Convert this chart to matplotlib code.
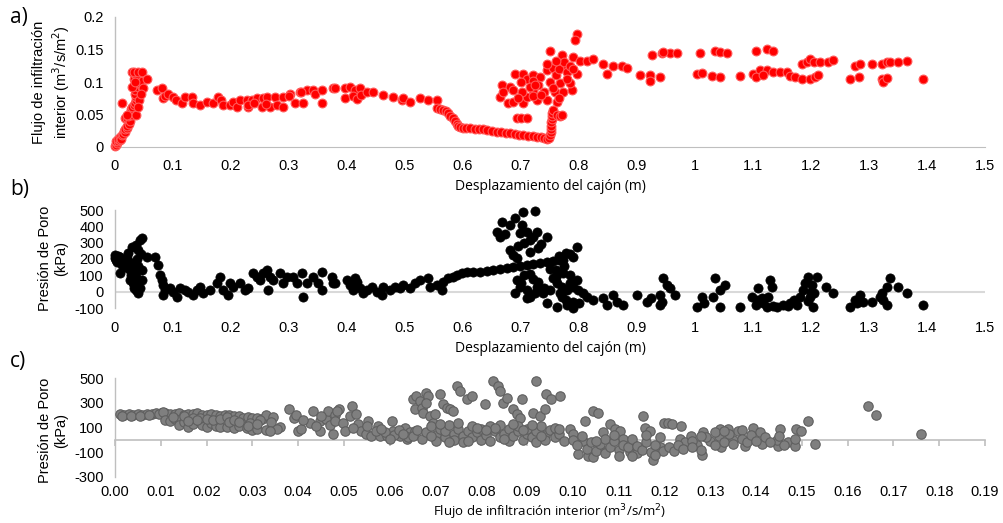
import matplotlib
matplotlib.use("Agg")
import matplotlib.pyplot as plt

# ---------------- Panel a: displacement vs infiltration flux ----------------
a_x = [0.000,0.001,0.002,0.003,0.004,0.002,0.005,0.006,0.008,0.009,0.010,0.012,0.014,0.015,0.017,0.018,0.020,0.021,
       0.017,0.020,0.024,0.026,0.022,0.026,0.029,0.031,0.028,0.029,0.033,0.034,0.012,0.037,0.037,0.034,0.034,0.040,
       0.046,0.037,0.043,0.032,0.037,0.029,0.033,0.040,0.046,0.049,0.055,0.041,0.030,0.035,0.044,0.021,0.037,0.040,
       0.072,0.081,0.083,0.087,0.092,0.100,0.106,0.115,0.121,0.132,0.135,0.147,0.158,0.169,0.178,0.183,0.187,0.198,
       0.204,0.210,0.216,0.227,0.229,0.236,0.245,0.255,0.253,0.262,0.267,0.276,0.279,0.290,0.290,0.302,0.310,0.319,
       0.324,0.331,0.341,0.345,0.357,0.357,0.376,0.379,0.397,0.405,0.413,0.422,0.397,0.410,0.418,0.425,0.434,0.445,
       0.462,0.479,0.495,0.497,0.509,0.526,0.540,0.555,0.230,0.240,0.260,0.300,0.320,
       0.555,0.560,0.566,0.570,0.574,0.578,0.583,0.586,0.589,0.592,0.595,0.600,0.606,0.612,0.620,0.628,0.635,0.642,
       0.650,0.658,0.666,0.674,0.681,0.690,0.697,0.703,0.712,0.720,0.727,0.735,0.740,0.745,0.749,
       0.750,0.751,0.751,0.752,0.752,0.753,0.753,0.754,0.755,0.762,0.768,0.771,
       0.693,0.700,0.710,
       0.664,0.667,0.681,0.690,0.703,0.710,0.721,0.733,0.745,0.750,0.755,0.771,0.772,0.790,0.797,0.793,0.802,0.814,
       0.824,0.678,0.686,0.703,0.710,0.721,0.728,0.745,0.762,0.759,0.772,0.788,0.767,0.784,0.797,0.721,0.702,0.686,
       0.669,0.715,0.730,0.740,0.750,0.760,0.765,0.775,0.780,0.785,0.700,0.695,0.720,0.735,0.755,0.765,0.780,0.790,
       0.760,0.745,0.725,
       0.841,0.848,0.859,0.874,0.883,0.905,0.922,0.922,0.940,0.926,0.943,0.957,0.969,0.945,1.009,1.034,1.043,1.055,
       1.106,1.125,1.135,1.003,1.012,1.029,1.043,1.078,1.100,1.112,1.105,1.124,1.118,1.135,1.147,1.159,1.164,1.172,
       1.184,1.198,1.207,1.212,1.184,1.193,1.198,1.205,1.216,1.229,1.238,1.276,1.284,1.305,1.322,1.331,1.336,1.350,
       1.366,1.267,1.283,1.322,1.324,1.331,1.393]
a_y = [0.002,0.005,0.003,0.008,0.006,0.010,0.009,0.012,0.011,0.015,0.013,0.018,0.020,0.024,0.023,0.027,0.029,0.032,
       0.044,0.045,0.036,0.040,0.048,0.052,0.049,0.054,0.058,0.061,0.064,0.067,0.067,0.072,0.077,0.082,0.087,0.092,
       0.092,0.098,0.102,0.104,0.110,0.115,0.115,0.115,0.115,0.090,0.105,0.072,0.093,0.100,0.082,0.049,0.049,0.062,
       0.087,0.090,0.075,0.079,0.081,0.077,0.072,0.067,0.077,0.077,0.067,0.064,0.069,0.067,0.077,0.072,0.064,0.064,
       0.069,0.061,0.072,0.072,0.061,0.072,0.075,0.075,0.061,0.077,0.061,0.077,0.064,0.077,0.061,0.082,0.067,0.085,
       0.067,0.087,0.087,0.082,0.067,0.088,0.090,0.090,0.090,0.092,0.088,0.090,0.075,0.078,0.074,0.080,0.084,0.084,
       0.080,0.077,0.072,0.075,0.069,0.075,0.073,0.072,0.065,0.068,0.066,0.079,0.084,
       0.060,0.058,0.057,0.055,0.052,0.048,0.044,0.040,0.036,0.033,0.031,0.030,0.030,0.029,0.028,0.028,0.027,0.026,
       0.025,0.023,0.023,0.022,0.021,0.020,0.019,0.018,0.017,0.017,0.016,0.015,0.014,0.013,0.014,
       0.018,0.023,0.028,0.033,0.038,0.043,0.048,0.052,0.057,0.049,0.047,0.049,
       0.044,0.045,0.044,
       0.077,0.095,0.092,0.113,0.113,0.105,0.110,0.107,0.118,0.148,0.122,0.141,0.125,0.138,0.174,0.164,0.133,0.133,
       0.136,0.067,0.069,0.067,0.077,0.087,0.072,0.072,0.069,0.084,0.084,0.087,0.098,0.098,0.113,0.102,0.084,0.087,
       0.084,0.092,0.095,0.085,0.100,0.110,0.120,0.130,0.115,0.125,0.100,0.075,0.078,0.080,0.090,0.075,0.105,0.120,
       0.133,0.128,0.095,
       0.128,0.113,0.125,0.125,0.121,0.110,0.110,0.102,0.107,0.141,0.144,0.144,0.145,0.146,0.144,0.147,0.146,0.144,
       0.147,0.151,0.147,0.113,0.114,0.109,0.107,0.109,0.113,0.118,0.108,0.118,0.110,0.116,0.116,0.116,0.109,0.107,
       0.104,0.105,0.107,0.110,0.128,0.130,0.136,0.131,0.131,0.130,0.134,0.125,0.127,0.127,0.127,0.130,0.131,0.130,
       0.133,0.105,0.107,0.105,0.100,0.106,0.104]

# ---------------- Panel b: displacement vs pore pressure ----------------
b_x = [0.000,0.000,0.002,0.003,0.005,0.006,0.009,0.011,0.014,0.012,0.009,0.016,0.020,0.022,0.029,0.037,0.043,0.046,
       0.040,0.018,0.024,0.029,0.031,0.037,0.031,0.037,0.040,0.043,0.046,0.046,0.026,0.034,0.034,0.040,0.028,0.038,
       0.044,0.033,
       0.055,0.069,0.074,0.078,0.081,0.083,0.086,0.083,0.095,0.100,0.107,0.112,0.121,0.126,0.134,0.141,0.147,0.152,
       0.164,0.176,0.181,0.187,0.195,0.198,0.204,0.216,0.224,0.230,0.238,0.245,0.250,0.255,0.262,0.267,0.264,0.272,
       0.284,0.290,0.297,0.307,0.314,0.322,0.324,0.331,0.341,0.350,0.357,0.357,0.374,0.376,0.379,
       0.400,0.405,0.410,0.414,0.418,0.422,0.428,0.434,0.443,0.452,0.460,0.462,0.474,0.483,0.491,0.497,0.509,0.517,
       0.526,0.540,0.543,0.555,0.564,0.566,0.574,0.583,0.590,0.598,0.607,0.617,0.629,0.641,0.652,0.664,0.676,0.686,
       0.698,0.710,0.721,0.733,0.745,0.755,0.765,
       0.667,0.659,0.664,0.672,0.681,0.690,0.703,0.724,0.710,0.716,0.721,0.728,0.745,0.729,0.716,0.681,0.686,0.693,
       0.698,0.702,0.772,0.778,0.790,0.797,0.785,0.765,0.705,0.695,0.735,
       0.693,0.690,0.698,0.710,0.716,0.728,0.738,0.745,0.750,0.755,0.762,0.767,0.762,0.778,0.779,0.784,0.790,0.797,
       0.798,0.807,0.814,0.824,0.841,0.848,0.859,0.866,0.876,0.900,0.917,0.925,0.940,0.940,0.772,0.785,0.760,0.700,
       0.705,0.720,0.730,0.740,0.770,0.780,0.790,0.800,0.710,0.725,0.715,0.750,0.760,0.775,0.790,0.770,
       0.945,0.952,0.957,0.966,0.943,1.003,1.012,1.015,1.031,1.034,1.043,1.043,1.052,1.078,1.098,1.109,1.107,1.117,
       1.126,1.129,1.133,1.124,1.141,1.152,1.164,1.176,1.181,1.186,1.190,1.195,1.202,1.198,1.203,1.210,1.226,1.238,
       1.267,1.276,1.284,1.290,1.305,1.319,1.322,1.331,1.336,1.331,1.350,1.366,1.393,1.105,1.115,1.135,1.160,1.170,
       1.195,1.205,1.200,1.325,1.280]
b_y = [209,227,195,184,220,200,215,190,196,165,117,170,209,239,276,288,319,331,
       258,150,140,178,135,92,55,12,-6,25,74,135,74,40,110,160,100,200,
       230,20,
       215,215,166,104,74,43,12,-18,25,0,-31,25,12,0,-18,12,31,-6,
       12,55,92,12,-18,55,31,55,12,25,117,92,74,117,135,92,12,74,
       117,55,92,92,55,117,-31,55,92,55,123,12,92,55,55,
       74,43,12,86,60,25,-6,12,31,0,-18,31,12,31,25,43,25,55,
       74,86,31,43,12,61,86,92,104,117,123,123,123,129,135,141,147,153,
       160,166,172,178,184,190,195,
       429,368,337,350,411,454,485,491,368,319,337,368,337,270,245,258,227,209,
       362,411,196,239,215,276,230,220,300,280,290,
       74,-6,31,12,-31,31,-6,-67,12,86,55,-6,-92,-49,12,55,-61,74,
       12,-6,-31,-49,-37,-80,-18,-61,-80,-18,-61,-40,-18,-80,117,100,130,50,
       100,80,60,20,-30,-80,30,-70,-40,-10,110,140,90,160,-100,30,
       86,43,25,-18,-61,-92,-31,-70,-31,86,12,-92,43,-92,-31,25,-49,-67,
       -31,74,31,-92,-92,-80,-67,-80,-31,12,55,92,43,-31,-92,92,31,-6,
       -92,-49,-18,-61,-61,-31,-6,31,86,-80,31,-6,-80,-80,-40,-90,-90,-50,
       -60,-10,0,-50,-70]

# ---------------- Panel c: infiltration flux vs pore pressure ----------------
c_x = [0.001,0.002,0.003,0.004,0.005,0.006,0.007,0.008,0.009,0.010,0.011,0.012,0.013,0.014,0.015,0.016,0.017,0.018,
       0.019,0.020,0.021,0.022,0.023,0.024,0.025,0.026,0.027,0.028,0.029,0.030,0.031,0.032,0.033,0.0345,0.0015,0.0035,
       0.0055,0.0075,0.0095,0.0105,
       0.011,0.012,0.013,0.014,0.014,0.015,0.016,0.017,0.0186,0.019,0.020,0.021,0.022,0.023,0.0245,0.026,0.027,0.0288,
       0.030,0.031,0.0127,0.015,0.017,0.0186,0.020,0.0214,0.023,0.0245,0.025,0.026,0.027,0.0295,0.0317,0.018,0.016,
       0.029,0.031,0.033,0.034,0.036,
       0.038,0.039,0.040,0.0407,0.0395,0.0425,0.0433,0.0447,0.0447,0.046,0.0466,0.0477,0.048,0.049,0.0353,0.0338,
       0.041,0.044,0.045,0.047,
       0.0480,0.0484,0.0499,0.0502,0.0513,0.0517,0.0527,0.053,0.0538,0.0549,0.0553,0.056,0.0575,0.0578,0.0593,0.0604,
       0.0607,0.0622,0.0633,0.0637,0.0644,0.0655,0.052,0.057,0.059,0.061,0.062,0.064,0.063,0.058,0.055,0.060,
       0.0651,0.0655,0.0658,0.0666,0.067,0.0673,0.068,0.0684,0.068,0.0688,0.0695,0.0699,0.071,0.0717,0.0725,0.0732,
       0.0739,0.0746,0.0753,0.0768,0.0779,0.0808,0.0826,0.0837,0.0841,0.0848,0.0855,0.087,0.0877,0.0888,0.0884,
       0.0913,0.092,0.0928,0.0939,0.0942,0.0953,0.0971,
       0.065,0.066,0.067,0.068,0.069,0.070,0.070,0.071,0.072,0.072,0.073,0.074,0.074,0.075,0.076,0.076,0.077,0.078,
       0.078,0.079,0.080,0.080,0.081,0.082,0.082,0.083,0.084,0.084,0.085,0.086,0.086,0.087,0.088,0.088,0.089,0.090,
       0.090,0.091,0.092,0.092,0.093,0.094,0.094,0.095,0.096,0.096,0.097,0.098,0.071,0.075,0.079,0.083,0.087,0.091,
       0.069,0.073,0.077,0.081,0.085,0.089,0.093,0.097,
       0.1026,0.1044,0.1055,0.0993,0.1001,0.1012,0.1023,0.1033,0.1044,0.1059,0.1066,0.1081,0.1092,0.1103,0.111,0.1124,
       0.1132,0.1153,0.1157,0.1168,0.1175,0.119,0.120,0.1197,0.100,0.101,0.102,0.103,0.104,0.105,0.106,0.107,0.107,
       0.108,0.109,0.110,0.110,0.111,0.112,0.113,0.114,0.114,0.115,0.116,0.117,0.118,0.118,0.119,0.105,0.109,0.113,
       0.116,
       0.1208,0.1216,0.1237,0.1234,0.1245,0.1259,0.1281,0.1285,0.127,0.130,0.1321,0.1339,0.1324,0.135,0.136,0.137,
       0.1376,0.1394,0.1408,0.1412,0.1452,0.1448,0.1445,0.147,0.1485,0.1485,0.1488,0.1499,0.1514,0.1528,0.1645,0.1662,
       0.1761,0.121,0.122,0.123,0.124,0.126,0.128,0.129,0.131,0.132,0.133,0.134,0.135,0.137,0.138,0.139,0.140,0.142,
       0.143,0.145,0.146,0.131,0.133,0.128,0.126]
c_y = [210,205,212,200,208,203,212,206,215,220,218,212,208,215,205,212,208,218,
       205,200,210,198,190,200,205,195,190,180,185,175,178,170,200,185,195,190,
       195,202,210,225,
       161,150,165,161,121,145,105,130,145,120,105,135,115,105,105,97,115,97,
       81,90,185,190,178,177,170,161,165,185,145,160,145,137,161,160,150,
       110,130,81,145,105,
       247,180,74,87,200,140,233,153,73,167,233,47,200,247,87,73,
       160,110,190,120,
       153,233,140,73,194,274,207,127,73,47,153,33,114,33,33,153,
       73,33,100,7,60,73,100,70,60,40,80,20,50,90,110,10,
       327,247,354,314,260,220,380,354,300,194,140,207,367,287,260,247,
       233,434,394,327,354,287,474,434,394,300,340,247,207,327,180,
       220,474,194,247,367,327,354,
       30,80,10,60,110,40,-10,90,20,70,120,50,0,90,30,-20,70,110,
       20,60,0,90,40,110,-10,70,20,120,50,90,-10,30,70,110,0,50,
       90,20,-20,70,110,40,0,80,20,100,50,-10,130,140,100,100,130,120,
       30,-20,-10,80,10,80,30,90,
       153,233,220,87,47,-113,-7,-127,-140,-60,60,127,87,73,7,-100,
       -33,194,100,73,-166,-60,140,-87,0,-40,30,-70,-20,-90,-30,10,-110,
       -60,-10,-80,-130,-40,-60,10,-110,-50,-80,-20,-100,-40,-120,20,-10,40,-130,
       40,
       140,127,114,7,-20,33,-126,60,-40,-10,87,87,-60,0,73,80,
       -47,100,60,-33,87,-47,0,-20,-47,10,87,73,153,-33,274,202,
       47,-60,-90,-40,-70,-10,-80,20,-40,30,-20,50,-30,10,-20,40,-10,20,
       -20,30,-40,60,70,30,-60]

# tick labels
disp_ticks = [0, 0.1, 0.2, 0.3, 0.4, 0.5, 0.6, 0.7, 0.8, 0.9, 1.0, 1.1, 1.2, 1.3, 1.4, 1.5]
disp_labels = ["0", "0.1", "0.2", "0.3", "0.4", "0.5", "0.6", "0.7", "0.8", "0.9",
               "1", "1.1", "1.2", "1.3", "1.4", "1.5"]
flux_ticks = [0, 0.05, 0.1, 0.15, 0.2]
flux_labels = ["0", "0.05", "0.1", "0.15", "0.2"]
pb_ticks = [-100, 0, 100, 200, 300, 400, 500]
pc_ticks = [-300, -100, 100, 300, 500]
fx_ticks = [i / 100 for i in range(20)]
fx_labels = ["%.2f" % t for t in fx_ticks]

TICKFONT = "Liberation Sans"
LABFONT = "Open Sans"
GRAY = "#bfbfbf"

fig = plt.figure(figsize=(10.04, 5.23), dpi=100)

def style_common(ax):
    for s in ["top", "right"]:
        ax.spines[s].set_visible(False)
    ax.spines["left"].set_color(GRAY)
    ax.spines["left"].set_linewidth(1.0)
    ax.tick_params(axis="y", length=0, pad=8, labelsize=10.5)
    for lab in ax.get_yticklabels():
        lab.set_fontfamily(TICKFONT)

# ---- panel a
L, W = 115 / 1004, 870 / 1004
axa = fig.add_axes([L, 1 - 147 / 523, W, 130 / 523])
axa.scatter(a_x, a_y, s=40, c="#ff0000", edgecolors="#ff5a5a", linewidths=0.8, zorder=3, clip_on=False)
axa.set_xlim(0, 1.5)
axa.set_ylim(0, 0.2)
axa.set_xticks(disp_ticks)
axa.set_xticklabels(disp_labels)
axa.set_yticks(flux_ticks)
axa.set_yticklabels(flux_labels)
style_common(axa)
axa.spines["bottom"].set_color(GRAY)
axa.tick_params(axis="x", length=0, pad=9, labelsize=10.5)
for lab in axa.get_xticklabels():
    lab.set_fontfamily(TICKFONT)

# ---- panel b
axb = fig.add_axes([L, 1 - 308 / 523, W, 98 / 523])
axb.scatter(b_x, b_y, s=44, c="black", edgecolors="black", linewidths=0.5, zorder=3, clip_on=False)
axb.set_xlim(0, 1.5)
axb.set_ylim(-100, 500)
axb.set_yticks(pb_ticks)
axb.set_yticklabels([str(t) for t in pb_ticks])
axb.set_xticks(disp_ticks)
axb.set_xticklabels(disp_labels)
style_common(axb)
axb.spines["bottom"].set_visible(False)
axb.axhline(0, color="#d9d9d9", lw=1.5, zorder=1)
axb.tick_params(axis="x", length=0, pad=9, labelsize=10.5)
for lab in axb.get_xticklabels():
    lab.set_fontfamily(TICKFONT)

# ---- panel c
axc = fig.add_axes([L, 1 - 477 / 523, W, 99 / 523])
axc.scatter(c_x, c_y, s=46, c="#7f7f7f", edgecolors="#5f5f5f", linewidths=0.8, zorder=3, clip_on=False)
axc.set_xlim(0, 0.19)
axc.set_ylim(-300, 500)
axc.set_yticks(pc_ticks)
axc.set_yticklabels([str(t) for t in pc_ticks])
style_common(axc)
axc.spines["bottom"].set_position(("data", 0))
axc.spines["bottom"].set_color(GRAY)
axc.spines["bottom"].set_linewidth(1.2)
axc.set_xticks(fx_ticks)
axc.tick_params(axis="x", length=4, width=1.2, color=GRAY, direction="out", labelbottom=False)
sec = axc.secondary_xaxis(0)
sec.set_xticks(fx_ticks)
sec.set_xticklabels(fx_labels)
sec.spines["bottom"].set_visible(False)
sec.tick_params(axis="x", length=0, pad=6, labelsize=10.5)
for lab in sec.get_xticklabels():
    lab.set_fontfamily(TICKFONT)

# ---- labels
ylab_kw = dict(rotation=90, ha="center", va="center", multialignment="center",
               fontsize=10.5, family=TICKFONT)
fig.text(52 / 1004, 1 - 82 / 523, "Flujo de infiltración\ninterior (m$^3$/s/m$^2$)", **ylab_kw)
fig.text(53 / 1004, 1 - 258 / 523, "Presión de Poro\n(kPa)", **ylab_kw)
fig.text(53 / 1004, 1 - 430 / 523, "Presión de Poro\n(kPa)", **ylab_kw)

xlab_kw = dict(ha="center", va="center", fontsize=10, family=LABFONT)
fig.text(550 / 1004, 1 - 187 / 523, "Desplazamiento del cajón (m)", **xlab_kw)
fig.text(550 / 1004, 1 - 348 / 523, "Desplazamiento del cajón (m)", **xlab_kw)
fig.text(550 / 1004, 0.5 / 523, "Flujo de infiltración interior (m$^3$/s/m$^2$)", ha="center", va="bottom",
         fontsize=9.5, family=LABFONT)

let_kw = dict(ha="left", va="center", fontsize=15, family=LABFONT)
fig.text(10 / 1004, 1 - 18 / 523, "a)", **let_kw)
fig.text(10 / 1004, 1 - 190 / 523, "b)", **let_kw)
fig.text(10 / 1004, 1 - 362 / 523, "c)", **let_kw)

fig.savefig("out.png", dpi=100)
